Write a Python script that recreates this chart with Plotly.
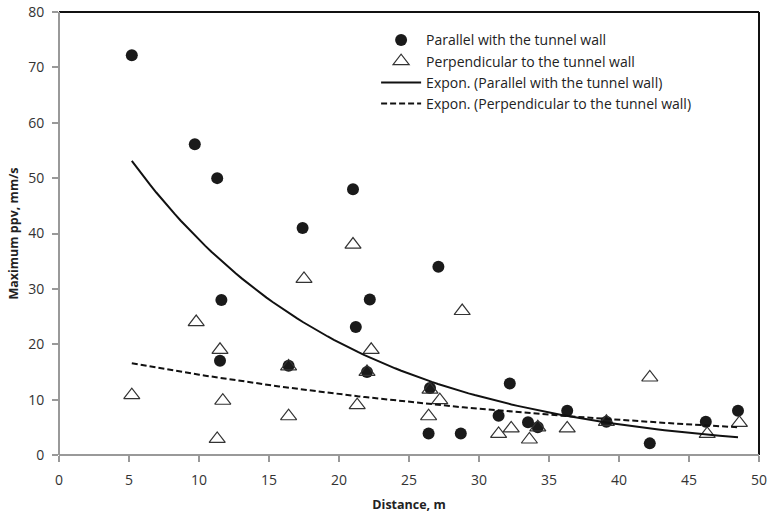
import numpy as np
import plotly.graph_objects as go

# Peak particle velocity measurements vs. distance from the blast
par_dist = [5.2, 9.7, 11.3, 11.6, 11.5, 16.4, 17.4, 21.0, 21.2, 22.2, 22.0, 26.5,
            26.4, 27.1, 28.7, 31.4, 32.2, 33.5, 34.2, 36.3, 39.1, 42.2, 46.2, 48.5]
par_ppv = [72.2, 56.1, 50.0, 28.0, 17.0, 16.1, 41.0, 48.0, 23.1, 28.1, 15.0, 12.1,
           3.9, 34.0, 3.9, 7.1, 12.9, 5.9, 5.0, 8.0, 6.0, 2.1, 6.0, 8.0]

perp_dist = [5.2, 9.8, 11.3, 11.5, 11.7, 16.4, 16.4, 17.5, 21.0, 21.3, 22.0, 22.3,
             26.5, 26.4, 27.2, 28.8, 31.4, 32.3, 33.6, 34.2, 36.3, 39.1, 42.2, 46.3, 48.6]
perp_ppv = [10.8, 24.0, 2.9, 19.0, 9.8, 16.0, 7.0, 31.8, 38.0, 9.0, 15.0, 19.0,
            11.8, 7.0, 9.9, 26.0, 3.8, 4.8, 2.8, 5.0, 4.8, 6.0, 14.0, 3.8, 5.8]

x_ticks = [0, 5, 10, 15, 20, 25, 30, 35, 40, 45, 50]
y_ticks = [0, 10, 20, 30, 40, 50, 60, 70, 80]

FONT = "Open Sans"


def expon_fit(x, y):
    """Exponential trendline y = a*exp(b*x) via least squares on ln(y)."""
    x = np.asarray(x, float)
    y = np.asarray(y, float)
    b, ln_a = np.polyfit(x, np.log(y), 1)
    xs = np.linspace(x.min(), x.max(), 100)
    return xs, np.exp(ln_a) * np.exp(b * xs)


par_fx, par_fy = expon_fit(par_dist, par_ppv)
perp_fx, perp_fy = expon_fit(perp_dist, perp_ppv)

fig = go.Figure()

fig.add_trace(go.Scatter(
    x=par_dist, y=par_ppv, mode="markers", name="Parallel with the tunnel wall",
    marker=dict(symbol="circle", size=12, color="#1a1a1a"),
))
fig.add_trace(go.Scatter(
    x=perp_dist, y=perp_ppv, mode="markers", name="Perpendicular to the tunnel wall",
    marker=dict(symbol="triangle-up-open", size=14, color="#333333",
                line=dict(width=1.2, color="#333333")),
))
fig.add_trace(go.Scatter(
    x=par_fx, y=par_fy, mode="lines", name="Expon. (Parallel with the tunnel wall)",
    line=dict(color="#111111", width=2),
))
fig.add_trace(go.Scatter(
    x=perp_fx, y=perp_fy, mode="lines", name="Expon. (Perpendicular to the tunnel wall)",
    line=dict(color="#111111", width=2, dash="6px,3px"),
))

axis_common = dict(
    showgrid=False, zeroline=False, showline=False, automargin=False,
    ticks="outside", ticklen=6, tickwidth=1.5, tickcolor="#999999",
    tickfont=dict(family=FONT, size=14, color="#333333"),
)

fig.update_xaxes(
    range=[0, 50], tickvals=x_ticks, ticktext=[str(v) for v in x_ticks],
    ticklabelstandoff=6,
    title=dict(text="<b>Distance, m</b>", font=dict(family=FONT, size=12.5, color="#222222"),
               standoff=12),
    **axis_common,
)
fig.update_yaxes(
    range=[0, 80], tickvals=y_ticks, ticktext=[str(v) for v in y_ticks],
    ticklabelstandoff=5,
    title=dict(text="<b>Maximum ppv, mm/s</b>", font=dict(family=FONT, size=12.5, color="#222222"),
               standoff=6),
    **axis_common,
)

# Plot-area frame: dark top/right edges, grey axis lines on left/bottom
fig.add_shape(type="line", xref="paper", yref="paper", x0=0, x1=1, y0=1, y1=1,
              line=dict(color="#111111", width=2))
fig.add_shape(type="line", xref="paper", yref="paper", x0=1, x1=1, y0=0, y1=1,
              line=dict(color="#111111", width=2))
fig.add_shape(type="line", xref="paper", yref="paper", x0=0, x1=0, y0=0, y1=1,
              line=dict(color="#999999", width=2))
fig.add_shape(type="line", xref="paper", yref="paper", x0=0, x1=1, y0=0, y1=0,
              line=dict(color="#999999", width=2))

fig.update_layout(
    width=770, height=514,
    margin=dict(l=59, r=11, t=12, b=59),
    paper_bgcolor="white", plot_bgcolor="white",
    showlegend=True,
    legend=dict(
        x=0.453, y=0.972, xanchor="left", yanchor="top",
        bgcolor="rgba(0,0,0,0)", borderwidth=0,
        font=dict(family=FONT, size=14, color="#222222"),
        itemwidth=40, tracegroupgap=0,
    ),
)

fig.write_html("out.html")
